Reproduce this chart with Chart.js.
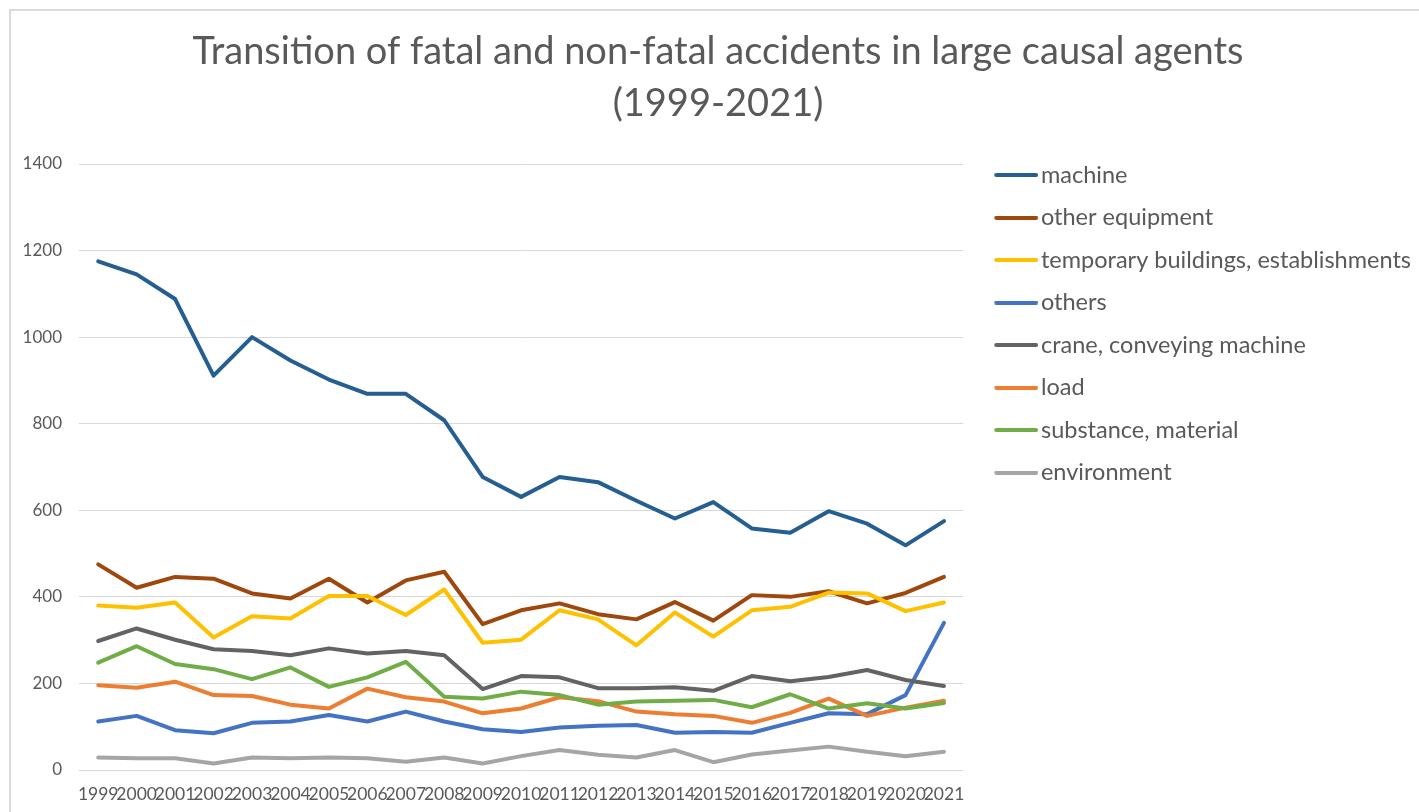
<!DOCTYPE html>
<html>
<head>
<meta charset="utf-8">
<script src="https://cdn.jsdelivr.net/npm/chart.js@4.4.0/dist/chart.umd.min.js"></script>
<style>
  html, body { margin: 0; padding: 0; background: #fff; overflow: hidden; }
  #frame {
    position: absolute; left: 9px; top: 9px; width: 1430px; height: 820px;
    border-top: 2px solid #d9d9d9; border-left: 2px solid #d9d9d9;
  }
  #chart { display: block; }
</style>
</head>
<body>
<div id="frame"><canvas id="chart" width="1420" height="801"></canvas></div>
<script>
const years = ['1999', '2000', '2001', '2002', '2003', '2004', '2005', '2006', '2007', '2008', '2009',
  '2010', '2011', '2012', '2013', '2014', '2015', '2016', '2017', '2018', '2019', '2020', '2021'];

const machine = [1175, 1145, 1088, 911, 1000, 946, 902, 869, 869, 808, 677, 631, 677, 665, 622, 581, 619, 558, 548, 598, 569, 519, 575];
const otherEquipment = [475, 421, 446, 442, 408, 396, 442, 387, 438, 458, 337, 369, 385, 360, 348, 388, 345, 404, 400, 413, 385, 409, 446];
const temporaryBuildings = [380, 375, 387, 306, 355, 350, 402, 402, 358, 417, 294, 301, 369, 348, 288, 364, 308, 369, 377, 410, 408, 367, 387];
const others = [112, 125, 92, 85, 109, 112, 127, 112, 135, 112, 94, 88, 98, 102, 104, 86, 88, 86, 109, 131, 129, 173, 340];
const crane = [298, 327, 301, 279, 275, 265, 281, 269, 275, 265, 187, 217, 214, 189, 189, 191, 183, 217, 205, 215, 231, 208, 194];
const load = [196, 190, 204, 173, 171, 151, 142, 188, 168, 158, 131, 142, 168, 159, 135, 129, 125, 109, 132, 165, 125, 144, 160];
const substance = [248, 286, 245, 233, 210, 237, 192, 214, 250, 169, 165, 181, 173, 151, 158, 160, 162, 145, 175, 142, 154, 142, 155];
const environment = [29, 27, 27, 15, 29, 27, 29, 27, 19, 29, 15, 32, 46, 35, 29, 46, 18, 36, 45, 54, 42, 32, 42];

const seriesNames = ['machine', 'other equipment', 'temporary buildings, establishments', 'others',
  'crane, conveying machine', 'load', 'substance, material', 'environment'];
const seriesValues = [machine, otherEquipment, temporaryBuildings, others, crane, load, substance, environment];
const seriesColors = ['#255E91', '#9E480E', '#FFC000', '#4472C4', '#636363', '#ED7D31', '#70AD47', '#A5A5A5'];

const textColor = '#595959';
const fontFamily = 'Lato, "Open Sans", sans-serif';

// small picture of a line used as the legend marker
function legendLine(color) {
  const c = document.createElement('canvas');
  c.width = 65;
  c.height = 4;
  const g = c.getContext('2d');
  g.strokeStyle = color;
  g.lineWidth = 4;
  g.lineCap = 'round';
  g.beginPath();
  g.moveTo(23, 2);
  g.lineTo(63, 2);
  g.stroke();
  return c;
}

const datasets = seriesNames.map((name, i) => ({
  label: name,
  data: seriesValues[i],
  borderColor: seriesColors[i],
  backgroundColor: seriesColors[i],
  borderWidth: 4,
  borderJoinStyle: 'round',
  borderCapStyle: 'round',
  pointRadius: 0,
  pointHoverRadius: 0,
  pointStyle: legendLine(seriesColors[i]),
  tension: 0,
  order: seriesNames.length - 1 - i
}));

new Chart(document.getElementById('chart'), {
  type: 'line',
  data: { labels: years, datasets: datasets },
  options: {
    responsive: false,
    animation: false,
    devicePixelRatio: 1,
    events: [],
    layout: { padding: { left: 4, right: 10, top: 0, bottom: 10 } },
    plugins: {
      title: {
        display: true,
        text: ['Transition of fatal and non-fatal accidents in large causal agents', '(1999-2021)'],
        color: textColor,
        font: { family: fontFamily, size: 38, weight: 'normal', lineHeight: 52 / 38 },
        padding: { top: 15, bottom: 34 }
      },
      legend: {
        position: 'right',
        align: 'start',
        fullSize: true,
        maxWidth: 700,
        title: {
          display: true,
          text: ' ',
          font: { size: 10, lineHeight: 1 },
          padding: { top: 0, bottom: 123.25 }
        },
        labels: {
          usePointStyle: true,
          pointStyleWidth: 47,
          padding: 19,
          color: textColor,
          font: { family: fontFamily, size: 23.5 },
          sort: (a, b) => a.datasetIndex - b.datasetIndex
        }
      },
      tooltip: { enabled: false }
    },
    scales: {
      x: {
        offset: true,
        grid: { display: false, drawTicks: false },
        border: { display: false },
        ticks: {
          color: textColor,
          font: { family: fontFamily, size: 17.5 },
          autoSkip: false,
          maxRotation: 0,
          minRotation: 0,
          padding: 14
        },
        afterFit: (scale) => { scale.height = 32; }
      },
      y: {
        min: 0,
        max: 1400,
        grid: { color: '#d9d9d9', lineWidth: 1, drawTicks: false },
        border: { display: false },
        ticks: {
          stepSize: 200,
          color: textColor,
          font: { family: fontFamily, size: 17 },
          padding: 17,
          callback: (v) => String(v)
        },
        afterFit: (scale) => { scale.width = 64; }
      }
    }
  }
});
</script>
</body>
</html>
